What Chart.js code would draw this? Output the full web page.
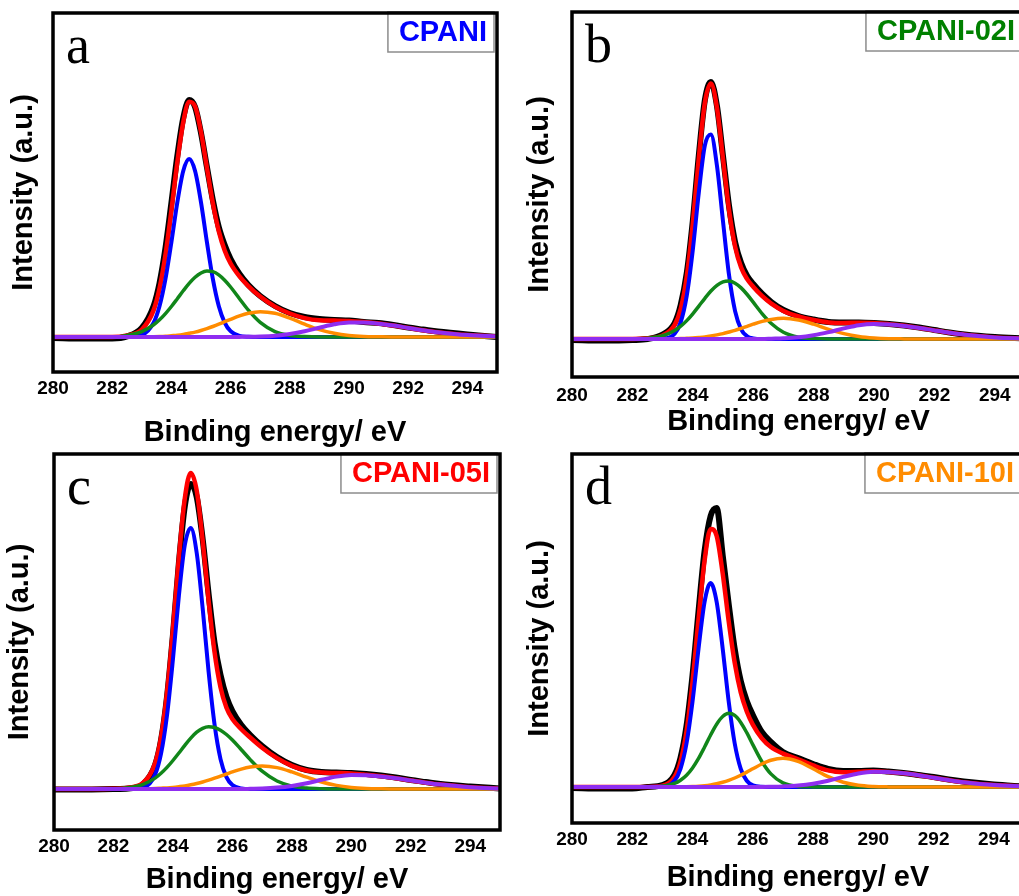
<!DOCTYPE html>
<html>
<head>
<meta charset="utf-8">
<script src="https://cdn.jsdelivr.net/npm/chart.js@4.4.1/dist/chart.umd.min.js"></script>
<style>
  html, body { margin: 0; padding: 0; background: #fff; }
  body { width: 1019px; height: 896px; overflow: hidden; position: relative; }
  canvas { position: absolute; }
</style>
</head>
<body>
<canvas id="panelA"></canvas>
<canvas id="panelB"></canvas>
<canvas id="panelC"></canvas>
<canvas id="panelD"></canvas>
<script>
// C 1s spectra, binding energy grid (eV) shared by all curves
const energy = [280, 281, 282, 282.5, 283, 283.4, 283.6, 283.8, 284, 284.2, 284.4, 284.6, 284.8,
  285, 285.2, 285.4, 285.6, 285.8, 286, 286.3, 286.6, 287, 287.5, 288, 288.5, 289, 289.5,
  290, 290.5, 291, 291.5, 292, 292.5, 293, 294, 295];
const energyTicks = [280, 282, 284, 286, 288, 290, 292, 294];

// a - CPANI
const cpaniRaw = [-1, -1.5, -1.5, 0.5, 9, 31, 54, 89, 134, 181, 219, 237, 230, 204, 170, 137, 110, 92, 78, 63, 52, 41, 31, 24, 20, 18, 17, 16.5, 15, 14, 12, 9.5, 7.5, 5.5, 2.5, 0];
const cpaniFit = [0, 0, 0, 1.6, 7.5, 26.9, 48.7, 82.3, 126.7, 174.7, 214.8, 235.3, 230.6, 205.1, 169.2, 133.9, 105.9, 86.5, 73.5, 60.6, 50.9, 40.4, 30.4, 23.5, 18.9, 16.7, 16.4, 16.1, 15.0, 13.5, 11.4, 9.1, 6.8, 4.8, 1.9, 0.6];
const cpaniP1 = [0, 0, 0, 0, 2.0, 14.4, 31.0, 58.1, 94.9, 134.6, 166, 178, 166, 134.6, 94.9, 58.1, 31.0, 14.4, 5.8, 1.1, 0.2, 0, 0, 0, 0, 0, 0, 0, 0, 0, 0, 0, 0, 0, 0, 0];
const cpaniP2 = [0, 0, 0, 1.6, 5.4, 12.2, 17.2, 23.4, 30.5, 38.3, 46.2, 53.6, 59.7, 64.0, 65.9, 65.3, 62.1, 56.8, 50.0, 38.3, 26.8, 14.6, 5.4, 1.6, 0.4, 0, 0, 0, 0, 0, 0, 0, 0, 0, 0, 0];
const cpaniP3 = [0, 0, 0, 0, 0.1, 0.3, 0.5, 0.8, 1.3, 1.8, 2.6, 3.7, 4.9, 6.5, 8.4, 10.5, 12.8, 15.3, 17.7, 21.1, 23.7, 25.3, 23.7, 18.9, 12.8, 7.4, 3.7, 1.5, 0.5, 0.2, 0, 0, 0, 0, 0, 0];
const cpaniP4 = [0, 0, 0, 0, 0, 0, 0, 0, 0, 0, 0, 0, 0, 0, 0, 0, 0, 0, 0, 0.1, 0.2, 0.5, 1.3, 3.0, 5.7, 9.3, 12.7, 14.6, 14.5, 13.3, 11.4, 9.1, 6.8, 4.8, 1.9, 0.6];

// b - CPANI-02I
const cpani02Raw = [-1, -1.5, -1, 0, 4.5, 16, 34, 66, 118, 184, 239, 257, 233, 183, 133, 97, 76, 63, 55, 45, 37, 29, 23, 19.5, 17, 16.5, 16.5, 16, 15, 13.5, 11.5, 9, 6.5, 4.5, 2, 0.5];
const cpani02Fit = [0, 0, 0, 0.7, 3.6, 14.1, 30.1, 62.5, 115.3, 181.1, 236.4, 255.6, 231.1, 180.2, 128.9, 92.4, 71.5, 59.9, 52.2, 42.8, 35.4, 28.1, 22.5, 19.0, 16.6, 16.0, 16.3, 16.0, 14.8, 13.2, 11.0, 8.6, 6.3, 4.3, 1.6, 0.5];
const cpani02P1 = [0, 0, 0, 0, 0.3, 5.3, 16.9, 43.4, 89.1, 146.7, 193.6, 204.6, 173.3, 117.6, 63.9, 27.9, 9.7, 2.7, 0.6, 0, 0, 0, 0, 0, 0, 0, 0, 0, 0, 0, 0, 0, 0, 0, 0, 0];
const cpani02P2 = [0, 0, 0, 0.7, 3.2, 8.5, 12.8, 18.4, 25.2, 32.9, 40.7, 48.0, 53.7, 57.2, 58.0, 55.8, 51.1, 44.5, 36.8, 25.2, 15.5, 6.7, 1.8, 0.4, 0, 0, 0, 0, 0, 0, 0, 0, 0, 0, 0, 0];
const cpani02P3 = [0, 0, 0, 0, 0.1, 0.3, 0.4, 0.7, 1.0, 1.5, 2.1, 3.0, 4.1, 5.4, 7.0, 8.7, 10.7, 12.7, 14.8, 17.6, 19.6, 20.7, 19.0, 14.8, 9.7, 5.4, 2.5, 1.0, 0.3, 0.1, 0, 0, 0, 0, 0, 0];
const cpani02P4 = [0, 0, 0, 0, 0, 0, 0, 0, 0, 0, 0, 0, 0, 0, 0, 0, 0, 0, 0, 0, 0.3, 0.7, 1.7, 3.8, 6.9, 10.6, 13.8, 15.0, 14.5, 13.1, 11.0, 8.6, 6.3, 4.3, 1.6, 0.5];

// c - CPANI-05I
const cpani05Raw = [-0.5, -0.5, 0, 0.5, 5, 24, 49, 92, 154, 226, 283, 305, 292, 250, 195, 146, 114, 92, 78, 64, 54, 43, 32, 24, 19, 17, 16.5, 16, 15, 13.5, 11.5, 9, 7, 5, 2.5, 0.5];
const cpani05Fit = [0, 0.1, 0.3, 1.3, 6.3, 25.8, 51.8, 96.2, 159.7, 231.5, 290.8, 316.1, 298.3, 248.4, 188.3, 136.7, 101.6, 81.3, 70.0, 59.8, 51.5, 41.3, 30.8, 23.1, 18.5, 16.4, 16.0, 15.6, 14.3, 12.7, 10.7, 8.5, 6.3, 4.4, 1.7, 0.5];
const cpani05P1 = [0, 0, 0, 0, 1.4, 14.4, 35.3, 73.5, 129.6, 193.2, 244.0, 261, 236, 180.7, 117.2, 64.4, 29.9, 11.8, 3.9, 0.6, 0, 0, 0, 0, 0, 0, 0, 0, 0, 0, 0, 0, 0, 0, 0, 0];
const cpani05P2 = [0, 0.1, 0.3, 1.3, 4.7, 10.9, 15.7, 21.6, 28.5, 36.0, 43.7, 50.9, 56.8, 60.7, 62.3, 61.5, 58.8, 54.5, 49.0, 39.3, 29.4, 17.8, 8.0, 2.9, 0.9, 0.2, 0, 0, 0, 0, 0, 0, 0, 0, 0, 0];
const cpani05P3 = [0, 0, 0, 0, 0.2, 0.5, 0.8, 1.1, 1.6, 2.3, 3.1, 4.2, 5.5, 7.0, 8.8, 10.8, 12.9, 15.0, 17.1, 19.9, 21.9, 23.0, 21.4, 17.1, 11.8, 7.0, 3.6, 1.6, 0.6, 0.2, 0, 0, 0, 0, 0, 0];
const cpani05P4 = [0, 0, 0, 0, 0, 0, 0, 0, 0, 0, 0, 0, 0, 0, 0, 0, 0, 0, 0, 0, 0.2, 0.5, 1.4, 3.1, 5.8, 9.2, 12.4, 14.0, 13.7, 12.5, 10.7, 8.5, 6.3, 4.4, 1.7, 0.5];

// d - CPANI-10I
const cpani10Raw = [-1, -1.5, -1.5, 0, 2, 12, 29, 61, 112, 176, 236, 271, 279, 232, 183, 138, 106, 86, 72, 55, 45, 35, 29, 23, 18, 16, 16, 16.5, 15.5, 14, 12, 10, 7.5, 5.5, 2.5, 0.5];
const cpani10Fit = [0, 0, 0, 0.1, 1.2, 10.0, 25.2, 55.6, 105.1, 168.0, 226.5, 258.1, 251.2, 213.8, 165.8, 124.1, 94.6, 75.5, 62.4, 48.7, 40.0, 33.4, 27.7, 21.6, 16.6, 14.8, 15.2, 15.7, 15.1, 13.7, 11.7, 9.3, 6.9, 4.8, 1.9, 0.5];
const cpani10P1 = [0, 0, 0, 0, 0.4, 6.3, 18.2, 43.5, 85.5, 138.6, 185.2, 204, 185.2, 138.6, 85.5, 43.5, 18.2, 6.3, 1.8, 0.2, 0, 0, 0, 0, 0, 0, 0, 0, 0, 0, 0, 0, 0, 0, 0, 0];
const cpani10P2 = [0, 0, 0, 0.1, 0.8, 3.6, 6.8, 11.8, 19.1, 28.6, 40.0, 52.0, 62.8, 70.5, 73.7, 71.6, 64.6, 54.3, 42.4, 25.5, 13.1, 4.1, 0.6, 0.1, 0, 0, 0, 0, 0, 0, 0, 0, 0, 0, 0, 0];
const cpani10P3 = [0, 0, 0, 0, 0, 0.1, 0.2, 0.3, 0.5, 0.8, 1.3, 2.1, 3.2, 4.7, 6.6, 9.0, 11.8, 14.9, 18.2, 23.0, 26.7, 28.7, 25.6, 18.2, 10.3, 4.7, 1.7, 0.5, 0.1, 0, 0, 0, 0, 0, 0, 0];
const cpani10P4 = [0, 0, 0, 0, 0, 0, 0, 0, 0, 0, 0, 0, 0, 0, 0, 0, 0, 0, 0, 0, 0.2, 0.6, 1.5, 3.3, 6.3, 10.1, 13.5, 15.2, 15.0, 13.7, 11.7, 9.3, 6.9, 4.8, 1.9, 0.5];

// --- styling ---
Chart.defaults.font.family = '"Liberation Sans", Arial, sans-serif';
Chart.defaults.color = '#000';

const lineColors = {
  raw: '#000000',
  fit: '#ff0000',
  p1: '#0000ff',
  p2: '#11861a',
  p3: '#ff8c00',
  p4: '#8f2df0'
};

// frame, panel letter and sample label box
const panelDecor = {
  id: 'panelDecor',
  afterDraw(chart, args, opts) {
    const { ctx, chartArea: area } = chart;
    ctx.save();

    // sample label in the top-right corner
    ctx.font = 'bold 29px "Liberation Sans", Arial, sans-serif';
    const tw = ctx.measureText(opts.label).width;
    const textRight = area.right - 10;
    const textLeft = textRight - tw;
    const boxX = textLeft - 11;
    const boxW = textRight + 7 - boxX;
    const boxH = 40;
    const boxY = area.top - 1;
    ctx.fillStyle = '#fff';
    ctx.fillRect(boxX, boxY, boxW, boxH);
    ctx.strokeStyle = '#8c8c8c';
    ctx.lineWidth = 1.5;
    ctx.strokeRect(boxX, boxY, boxW, boxH);
    ctx.fillStyle = opts.color;
    ctx.textBaseline = 'middle';
    ctx.fillText(opts.label, textLeft, boxY + boxH / 2 + 1);

    // panel letter
    ctx.font = '54px "Liberation Serif", "Times New Roman", serif';
    ctx.fillStyle = '#000';
    ctx.textBaseline = 'alphabetic';
    ctx.fillText(opts.letter, area.left + 13, area.top + 50);

    // box around the plot
    ctx.strokeStyle = '#000';
    ctx.lineWidth = 3.5;
    ctx.strokeRect(area.left, area.top, area.right - area.left, area.bottom - area.top);
    ctx.restore();
  }
};

function toPoints(values) {
  return energy.map((e, i) => ({ x: e, y: values[i] }));
}

function line(values, color, width) {
  return {
    data: toPoints(values),
    borderColor: color,
    borderWidth: width,
    pointRadius: 0,
    fill: false,
    cubicInterpolationMode: 'monotone'
  };
}

function makePanel(p) {
  const canvas = document.getElementById(p.id);
  canvas.width = p.width;
  canvas.height = p.height;
  canvas.style.left = p.left + 'px';
  canvas.style.top = p.top + 'px';
  canvas.style.width = p.width + 'px';
  canvas.style.height = p.height + 'px';

  return new Chart(canvas.getContext('2d'), {
    type: 'line',
    data: {
      // first dataset is drawn on top
      datasets: [
        line(p.p4, lineColors.p4, 4),
        line(p.p3, lineColors.p3, 3.5),
        line(p.p2, lineColors.p2, 3.5),
        line(p.p1, lineColors.p1, 4),
        line(p.fit, lineColors.fit, 4.5),
        line(p.raw, lineColors.raw, 6)
      ]
    },
    options: {
      responsive: false,
      animation: false,
      devicePixelRatio: 1,
      layout: { padding: { top: p.padTop, right: p.padRight, left: 0, bottom: 0 } },
      plugins: {
        legend: { display: false },
        tooltip: { enabled: false },
        panelDecor: { letter: p.letter, label: p.label, color: p.labelColor }
      },
      scales: {
        x: {
          type: 'linear',
          min: 280,
          max: 295,
          grid: { display: false, drawTicks: false },
          border: { display: false },
          afterBuildTicks: s => { s.ticks = energyTicks.map(v => ({ value: v })); },
          afterFit: s => { s.height = p.xHeight; },
          ticks: {
            autoSkip: false,
            maxRotation: 0,
            padding: p.tickPad,
            color: '#000',
            font: { size: 19, weight: 'bold' }
          },
          title: {
            display: true,
            text: 'Binding energy/ eV',
            color: '#000',
            font: { size: 29, weight: 'bold' },
            padding: { top: 0, bottom: 0 }
          }
        },
        y: {
          min: p.yMin,
          max: p.yMax,
          grid: { display: false, drawTicks: false },
          border: { display: false },
          ticks: { display: false },
          afterFit: s => { s.width = p.yWidth; },
          title: {
            display: true,
            text: 'Intensity (a.u.)',
            color: '#000',
            font: { size: 29, weight: 'bold' },
            padding: { top: p.yTitlePad, bottom: 0 }
          }
        }
      }
    },
    plugins: [panelDecor]
  });
}

const panels = [
  { id: 'panelA', left: 0, top: 0, width: 510, height: 450, yWidth: 53, padTop: 13, padRight: 13,
    xHeight: 78, tickPad: 5, yTitlePad: 7, yMin: -35, yMax: 324,
    letter: 'a', label: 'CPANI', labelColor: '#0000ff',
    raw: cpaniRaw, fit: cpaniFit, p1: cpaniP1, p2: cpaniP2, p3: cpaniP3, p4: cpaniP4 },
  { id: 'panelB', left: 510, top: 0, width: 528, height: 439, yWidth: 62, padTop: 12, padRight: 13,
    xHeight: 62, tickPad: 7, yTitlePad: 13, yMin: -38, yMax: 327,
    letter: 'b', label: 'CPANI-02I', labelColor: '#008000',
    raw: cpani02Raw, fit: cpani02Fit, p1: cpani02P1, p2: cpani02P2, p3: cpani02P3, p4: cpani02P4 },
  { id: 'panelC', left: 0, top: 450, width: 510, height: 447, yWidth: 54, padTop: 4, padRight: 10,
    xHeight: 67, tickPad: 5, yTitlePad: 3, yMin: -41, yMax: 335,
    letter: 'c', label: 'CPANI-05I', labelColor: '#ff0000',
    raw: cpani05Raw, fit: cpani05Fit, p1: cpani05P1, p2: cpani05P2, p3: cpani05P3, p4: cpani05P4 },
  { id: 'panelD', left: 510, top: 450, width: 528, height: 445, yWidth: 62, padTop: 4, padRight: 14,
    xHeight: 72, tickPad: 5, yTitlePad: 13, yMin: -36, yMax: 333,
    letter: 'd', label: 'CPANI-10I', labelColor: '#ff8c00',
    raw: cpani10Raw, fit: cpani10Fit, p1: cpani10P1, p2: cpani10P2, p3: cpani10P3, p4: cpani10P4 }
];

panels.forEach(makePanel);
</script>
</body>
</html>
